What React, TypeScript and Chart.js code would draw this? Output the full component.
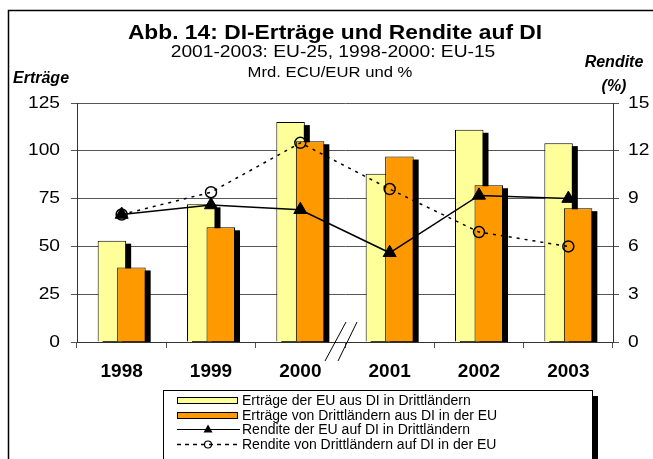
import React, { useEffect, useRef } from 'react';
import { Chart, registerables } from 'chart.js';

Chart.register(...registerables);

// ---- data ----
const categories = ['1998', '1999', '2000', '2001', '2002', '2003'];
const ertraegeEU = [53, 72, 115, 88, 111, 104];
const ertraegeDritt = [39, 60, 105, 97, 82, 70];
const renditeEU = [8.0, 8.6, 8.3, 5.6, 9.2, 9.0];
const renditeDritt = [8.0, 9.4, 12.5, 9.6, 6.9, 6.0];
const seriesLabels = [
  'Erträge der EU aus DI in Drittländern',
  'Erträge von Drittländern aus DI in der EU',
  'Rendite der EU auf DI in Drittländern',
  'Rendite von Drittländern auf DI in der EU',
];
const leftAxis = { min: 0, max: 125, step: 25 };
const rightAxis = { min: 0, max: 15, step: 3 };
const titleText = 'Abb. 14: DI-Erträge und Rendite auf DI';
const subtitleText = '2001-2003: EU-25, 1998-2000: EU-15';
const unitText = 'Mrd. ECU/EUR und %';
const leftAxisTitle = 'Erträge';
const rightAxisTitle = ['Rendite', '(%)'];

const FONT = "'Liberation Sans', Arial, sans-serif";
const YELLOW = '#FFFF99';
const ORANGE = '#FF9900';

function txt(ctx: CanvasRenderingContext2D, s: string, x: number, y: number, font: string, align: string, sx = 1) {
  ctx.save();
  ctx.font = font;
  ctx.fillStyle = '#000';
  ctx.textBaseline = 'alphabetic';
  ctx.textAlign = 'left';
  const w = ctx.measureText(s).width * sx;
  const left = align === 'center' ? x - w / 2 : align === 'right' ? x - w : x;
  ctx.translate(left, y);
  ctx.scale(sx, 1);
  ctx.fillText(s, 0, 0);
  ctx.restore();
}

const drawPlugin = {
  id: 'customDraw',
  beforeDatasetsDraw(chart: any) {
    const ctx = chart.ctx as CanvasRenderingContext2D;
    const a = chart.chartArea;
    ctx.save();
    ctx.beginPath();
    ctx.rect(a.left, a.top, a.right - a.left, a.bottom - a.top);
    ctx.clip();
    [0, 1].forEach((i) => {
      const meta = chart.getDatasetMeta(i);
      ctx.fillStyle = '#000';
      meta.data.forEach((el: any) => {
        const p = el.getProps(['x', 'y', 'base', 'width'], true);
        ctx.fillRect(p.x - p.width / 2 + 5, p.y + 3, p.width, p.base - p.y);
      });
      meta.controller.draw();
    });
    ctx.restore();
    [3, 2].forEach((i) => chart.getDatasetMeta(i).controller.draw());
    return false;
  },
  afterDraw(chart: any) {
    const ctx = chart.ctx as CanvasRenderingContext2D;
    const xs = chart.scales.x;
    const ys = chart.scales.y;
    const y1 = chart.scales.y1;

    // frame
    ctx.save();
    ctx.strokeStyle = '#000';
    ctx.lineWidth = 1.5;
    ctx.strokeRect(8.5, 10.5, 720, 520);
    ctx.restore();

    // titles
    txt(ctx, titleText, 335, 38.5, `bold 20px ${FONT}`, 'center', 1.14);
    txt(ctx, subtitleText, 333, 57, `16px ${FONT}`, 'center', 1.2);
    txt(ctx, unitText, 330, 77, `14px ${FONT}`, 'center', 1.19);
    txt(ctx, leftAxisTitle, 13, 83, `italic bold 16px ${FONT}`, 'left', 1.0);
    txt(ctx, rightAxisTitle[0], 614, 67, `italic bold 16px ${FONT}`, 'center', 1.0);
    txt(ctx, rightAxisTitle[1], 614, 91, `italic bold 16px ${FONT}`, 'center', 1.0);

    // tick labels
    ys.ticks.forEach((t: any) => {
      const py = ys.getPixelForValue(t.value);
      txt(ctx, String(t.value), ys.right - 17, py + 4.5, `16px ${FONT}`, 'right', 1.2);
    });
    y1.ticks.forEach((t: any) => {
      const py = y1.getPixelForValue(t.value);
      txt(ctx, String(t.value), y1.left + 15, py + 4.5, `16px ${FONT}`, 'left', 1.2);
    });
    categories.forEach((c, i) => {
      txt(ctx, c, xs.getPixelForValue(i), xs.top + 35, `bold 19px ${FONT}`, 'center', 1.0);
    });

    // axis break marks between 2000 and 2001
    const bx = (xs.getPixelForValue(2) + xs.getPixelForValue(3)) / 2;
    const by = xs.top;
    ctx.save();
    ctx.strokeStyle = '#000';
    ctx.lineWidth = 1;
    ctx.beginPath();
    ctx.moveTo(bx - 20, by + 19);
    ctx.lineTo(bx + 1, by - 20);
    ctx.moveTo(bx - 7, by + 19);
    ctx.lineTo(bx + 12, by - 20);
    ctx.stroke();
    ctx.restore();

    // legend
    ctx.save();
    ctx.fillStyle = '#000';
    ctx.fillRect(592, 396, 6, 80);
    ctx.fillStyle = '#fff';
    ctx.fillRect(163, 390, 429, 80);
    ctx.strokeStyle = '#000';
    ctx.lineWidth = 1;
    ctx.strokeRect(163.5, 390.5, 429, 80);
    const rows = [400, 414.5, 429, 443.5];
    const ds = chart.data.datasets;
    // bar swatches
    [0, 1].forEach((i) => {
      const r = Math.round(rows[i]);
      ctx.fillStyle = ds[i].backgroundColor;
      ctx.fillRect(177.5, r - 2.5, 60, 6);
      ctx.strokeStyle = '#000';
      ctx.strokeRect(177.5, r - 2.5, 60, 6);
    });
    // solid line + triangle
    {
      const r = Math.round(rows[2]) + 0.5;
      ctx.strokeStyle = '#000';
      ctx.lineWidth = 1.2;
      ctx.beginPath();
      ctx.moveTo(177, r);
      ctx.lineTo(240, r);
      ctx.stroke();
      ctx.fillStyle = '#000';
      ctx.beginPath();
      ctx.moveTo(208, r - 5);
      ctx.lineTo(212.5, r + 3);
      ctx.lineTo(203.5, r + 3);
      ctx.closePath();
      ctx.fill();
    }
    // dashed line + circle
    {
      const r = Math.round(rows[3]) + 0.5;
      ctx.strokeStyle = '#000';
      ctx.lineWidth = 1.5;
      ctx.setLineDash([4, 4]);
      ctx.beginPath();
      ctx.moveTo(177, r);
      ctx.lineTo(240, r);
      ctx.stroke();
      ctx.setLineDash([]);
      ctx.lineWidth = 1.2;
      ctx.beginPath();
      ctx.arc(208, r, 3.5, 0, Math.PI * 2);
      ctx.stroke();
    }
    ctx.restore();
    ds.forEach((d: any, i: number) => {
      txt(ctx, d.label, 242, rows[i] + 5, `14px ${FONT}`, 'left', 1.0);
    });
  },
};

export default function App() {
  const ref = useRef<HTMLCanvasElement | null>(null);
  useEffect(() => {
    if (!ref.current) return;
    const chart = new Chart(ref.current, {
      type: 'bar',
      data: {
        labels: categories,
        datasets: [
          {
            label: seriesLabels[0],
            data: ertraegeEU,
            backgroundColor: YELLOW,
            borderColor: '#000',
            borderWidth: 1,
            yAxisID: 'y',
            barPercentage: 1.46,
            categoryPercentage: 0.437,
          },
          {
            label: seriesLabels[1],
            data: ertraegeDritt,
            backgroundColor: ORANGE,
            borderColor: '#000',
            borderWidth: 1,
            yAxisID: 'y',
            barPercentage: 1.46,
            categoryPercentage: 0.437,
          },
          {
            type: 'line',
            label: seriesLabels[2],
            data: renditeEU,
            yAxisID: 'y1',
            borderColor: '#000',
            borderWidth: 1.5,
            pointStyle: 'triangle',
            pointRadius: 7.5,
            pointBackgroundColor: '#000',
            pointBorderColor: '#000',
            pointBorderWidth: 1,
          },
          {
            type: 'line',
            label: seriesLabels[3],
            data: renditeDritt,
            yAxisID: 'y1',
            borderColor: '#000',
            borderWidth: 1.5,
            borderDash: [3, 5],
            pointStyle: 'circle',
            pointRadius: 5.5,
            pointBackgroundColor: 'rgba(0,0,0,0)',
            pointBorderColor: '#000',
            pointBorderWidth: 1.5,
          },
        ] as any,
      },
      options: {
        responsive: false,
        animation: false,
        layout: { padding: { top: 103, left: 0, right: 0, bottom: 0 } },
        plugins: {
          legend: { display: false },
          tooltip: { enabled: false },
          title: { display: false },
        },
        scales: {
          x: {
            type: 'category',
            grid: { display: true, drawOnChartArea: false, drawTicks: true, tickLength: 6, color: '#555', offset: true },
            border: { display: true, color: '#333', width: 1 },
            ticks: { display: false },
            afterFit: (s: any) => { s.height = 117; },
          },
          y: {
            position: 'left',
            min: leftAxis.min,
            max: leftAxis.max,
            ticks: { stepSize: leftAxis.step, display: false },
            grid: { color: '#555', tickLength: 6 },
            border: { color: '#333' },
            afterFit: (s: any) => { s.width = 77; },
          },
          y1: {
            position: 'right',
            min: rightAxis.min,
            max: rightAxis.max,
            ticks: { stepSize: rightAxis.step, display: false },
            grid: { drawOnChartArea: false, color: '#555', tickLength: 6 },
            border: { color: '#333' },
            afterFit: (s: any) => { s.width = 40; },
          },
        },
      } as any,
      plugins: [drawPlugin],
    });
    return () => chart.destroy();
  }, []);
  return (
    <div style={{ position: 'fixed', left: 0, top: 0, width: 653, height: 459, background: '#fff' }}>
      <canvas ref={ref} width={653} height={459} style={{ display: 'block' }} />
    </div>
  );
}
